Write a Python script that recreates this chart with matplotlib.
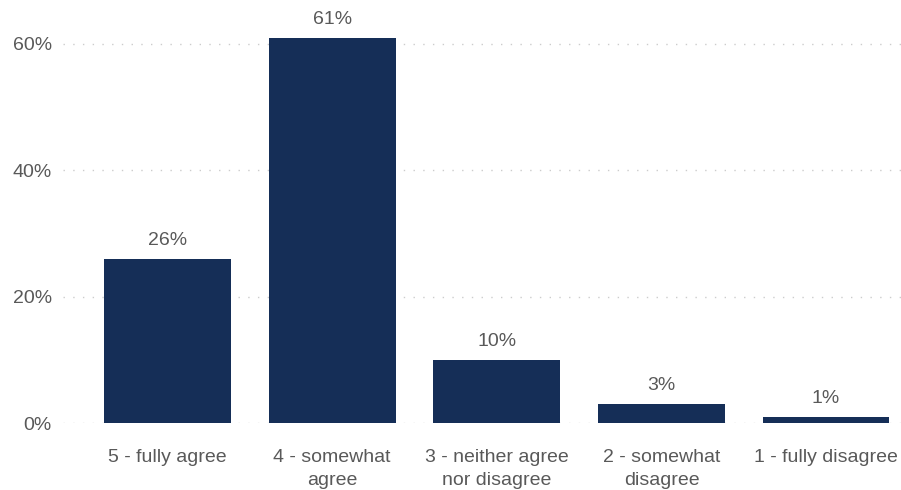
import matplotlib.pyplot as plt
import numpy as np

# Survey answers and share of respondents (%)
categories = ['5 - fully agree', '4 - somewhat\nagree', '3 - neither agree\nnor disagree',
              '2 - somewhat\ndisagree', '1 - fully disagree']
shares = [26, 61, 10, 3, 1]
yticks = [0, 20, 40, 60]

plt.rcParams['font.family'] = ['Liberation Sans', 'DejaVu Sans']
text_color = '#595959'
bar_color = '#152e57'

fig = plt.figure(figsize=(9.01, 4.90), dpi=100)
ax = fig.add_axes([63 / 901, 67 / 490, 838 / 901, 423 / 490])

x = np.arange(len(categories))
bars = ax.bar(x, shares, width=0.77, color=bar_color, zorder=3)

# Value labels above each bar
for rect, val in zip(bars, shares):
    ax.annotate(f'{val}%', (rect.get_x() + rect.get_width() / 2, rect.get_height()),
                xytext=(0, 7), textcoords='offset points', ha='center', va='bottom',
                fontsize=14, color=text_color)

ax.set_xlim(-0.635, 4.455)
ax.set_ylim(0, 66.95)
ax.set_xticks(x)
ax.set_xticklabels(categories, fontsize=14, color=text_color, linespacing=1.45)
ax.set_yticks(yticks)
ax.set_yticklabels([f'{t}%' for t in yticks], fontsize=14, color=text_color)
ax.tick_params(axis='x', length=0, pad=19)
ax.tick_params(axis='y', length=0, pad=8)

# Dotted horizontal gridlines
ax.grid(axis='y', color='#cccccc', linestyle=(0, (1, 6)), linewidth=1, zorder=0)
ax.grid(axis='x', visible=False)
for side in ax.spines.values():
    side.set_visible(False)

plt.savefig('out.png', dpi=100)
